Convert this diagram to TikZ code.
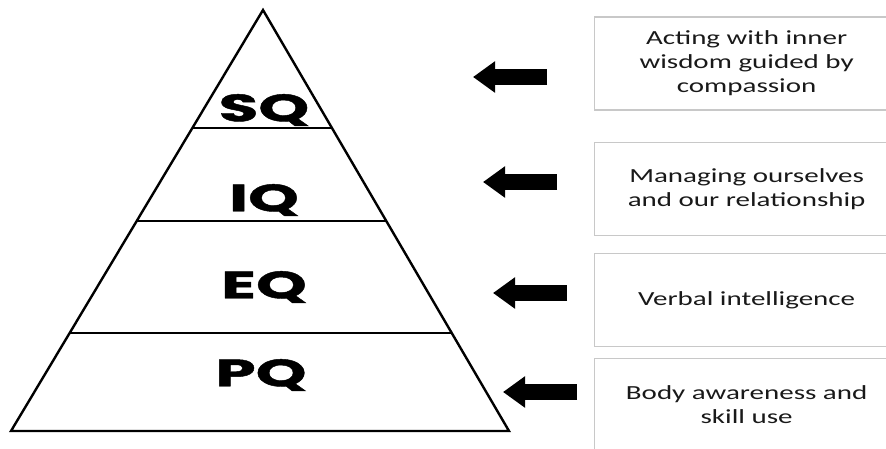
\documentclass[tikz,border=0pt]{standalone}
\usepackage{fontspec}
\usetikzlibrary{calc,arrows.meta}
\newfontfamily\boxfont{Carlito}[FakeStretch=1.45]
\newfontfamily\pyrfont{Poppins}[FakeStretch=1.7,FakeBold=1.2]
\definecolor{boxline}{RGB}{200,200,200}
\definecolor{boxtext}{RGB}{25,25,25}
\tikzset{
  pyrline/.style={line width=2.4pt, line join=miter},
  divline/.style={line width=2pt},
  levellabel/.style={font=\pyrfont\bfseries\fontsize{38}{40}\selectfont, inner sep=0pt},
  infobox/.style={draw=boxline, line width=1.3pt, anchor=west, minimum width=304pt,
    minimum height=93pt, align=center, text=boxtext, inner sep=0pt,
    font=\boxfont\fontsize{20}{24}\selectfont},
  blockarrow/.style={line width=16pt, -{Triangle[length=22pt,width=30pt]}}
}
\begin{document}
\begin{tikzpicture}[x=1pt,y=-1pt]
\useasboundingbox (0,0) rectangle (886,448);
% pyramid
\coordinate (apex) at (263,10);
\coordinate (bl) at (11,431);
\coordinate (br) at (509,431);
\draw[pyrline] (apex) -- (br) -- (bl) -- cycle;
\draw[divline] ($(apex)!0.280!(bl)$) -- ($(apex)!0.280!(br)$);
\draw[divline] ($(apex)!0.501!(bl)$) -- ($(apex)!0.501!(br)$);
\draw[divline] ($(apex)!0.767!(bl)$) -- ($(apex)!0.767!(br)$);
% labels
\node[levellabel] (sq) at (264,110) {SQ};
\node[levellabel] (iq) at (264,200) {IQ};
\node[levellabel] (eq) at (264,287) {EQ};
\node[levellabel] (pq) at (261,375) {PQ};
% boxes
\node[infobox] (b1) at (594,63.5) {Acting with inner\\wisdom guided by\\compassion};
\node[infobox] (b2) at (594,189) {Managing ourselves\\and our relationship};
\node[infobox] (b3) at (594,300) {Verbal intelligence};
\node[infobox] (b4) at (594,405) {Body awareness and\\skill use};
% arrows
\coordinate (t1) at (547,77);  \coordinate (h1) at (473,77);
\coordinate (t2) at (557,182); \coordinate (h2) at (483,182);
\coordinate (t3) at (567,293); \coordinate (h3) at (493,293);
\coordinate (t4) at (577,392); \coordinate (h4) at (503,392);
\draw[blockarrow] (t1) -- (h1);
\draw[blockarrow] (t2) -- (h2);
\draw[blockarrow] (t3) -- (h3);
\draw[blockarrow] (t4) -- (h4);
\end{tikzpicture}
\end{document}
